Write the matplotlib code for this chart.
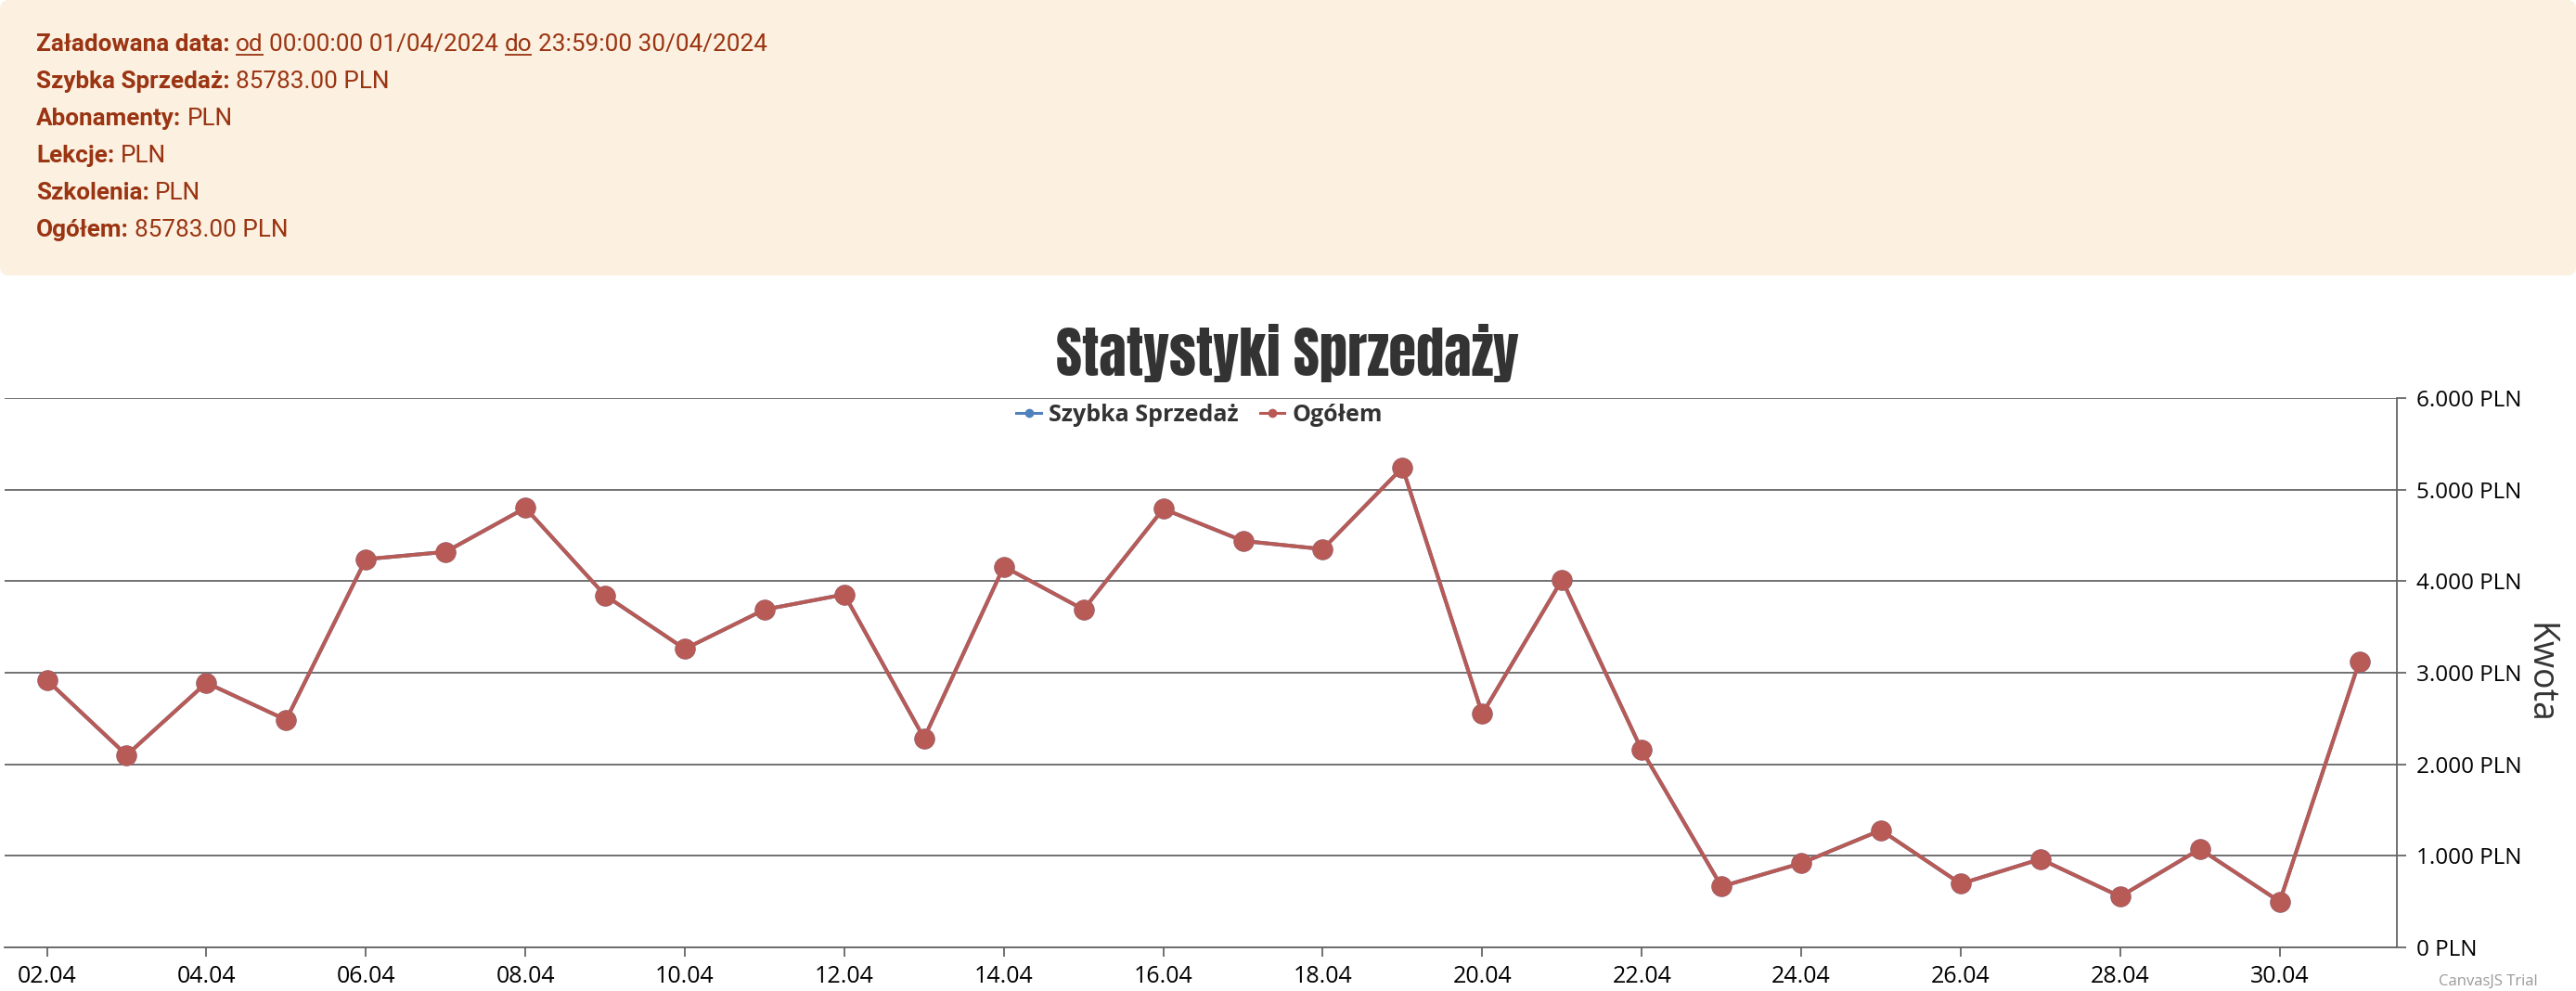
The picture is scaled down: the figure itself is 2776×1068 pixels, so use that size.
import matplotlib
matplotlib.use("Agg")
import matplotlib.pyplot as plt
import matplotlib.font_manager as fm
from matplotlib.patches import FancyBboxPatch
from matplotlib.lines import Line2D

# ---------------- data ----------------
days = list(range(2, 32))
szybka_sprzedaz = [2920, 2100, 2890, 2485, 4240, 4320, 4800, 3845, 3260, 3690,
                   3855, 2285, 4160, 3690, 4790, 4440, 4350, 5240, 2550, 4015,
                   2155, 665, 920, 1280, 695, 965, 555, 1075, 500, 3125]
ogolem = [2920, 2100, 2890, 2485, 4240, 4320, 4800, 3845, 3260, 3690,
          3855, 2285, 4160, 3690, 4790, 4440, 4350, 5240, 2550, 4015,
          2155, 665, 920, 1280, 695, 965, 555, 1075, 500, 3125]
series_names = ["Szybka Sprzedaż", "Ogółem"]
x_ticks = list(range(2, 31, 2))
x_tick_labels = ["02.04", "04.04", "06.04", "08.04", "10.04", "12.04", "14.04", "16.04",
                 "18.04", "20.04", "22.04", "24.04", "26.04", "28.04", "30.04"]
y_ticks = [0, 1000, 2000, 3000, 4000, 5000, 6000]
y_tick_labels = ["0 PLN", "1.000 PLN", "2.000 PLN", "3.000 PLN", "4.000 PLN", "5.000 PLN", "6.000 PLN"]
title = "Statystyki Sprzedaży"
y_title = "Kwota"
info_labels = ["Załadowana data:", "Szybka Sprzedaż:", "Abonamenty:", "Lekcje:", "Szkolenia:", "Ogółem:"]
info_values = [None, "85783.00 PLN", "PLN", "PLN", "PLN", "85783.00 PLN"]
date_from = "00:00:00 01/04/2024"
date_to = "23:59:00 30/04/2024"

# ---------------- fonts ----------------
avail = {f.name for f in fm.fontManager.ttflist}
def pick(*names):
    for n in names:
        if n in avail:
            return n
    return "DejaVu Sans"

INFO_FONT = pick("Roboto", "Open Sans", "DejaVu Sans")
TICK_FONT = pick("Open Sans", "Lato", "DejaVu Sans")
TITLE_FONT = pick("Anton", "Oswald", "Bebas Neue", "Roboto Condensed", "Liberation Sans Narrow",
                  "Open Sans Condensed", "DejaVu Sans")

W, H = 2776, 1068
fig = plt.figure(figsize=(W / 100, H / 100), dpi=100)
fig.patch.set_facecolor("white")
renderer = fig.canvas.get_renderer()

# ---------------- info box ----------------
BOX_H = 297
box_ax = fig.add_axes([0, 1 - BOX_H / H, 1, BOX_H / H])
box_ax.set_xlim(0, W)
box_ax.set_ylim(BOX_H, 0)
box_ax.axis("off")
box_ax.add_patch(FancyBboxPatch((0, 0), W, BOX_H, boxstyle="round,pad=0,rounding_size=10",
                                fc="#FCF1E1", ec="none"))

INFO_C = "#9a3412"
INFO_FS = 18.8
SPACE = 6.5

def seg_line(y, segs):
    x = 39
    inv = box_ax.transData.inverted()
    for txt, bold, ul in segs:
        t = box_ax.text(x, y, txt, fontsize=INFO_FS, family=INFO_FONT,
                        fontweight="bold" if bold else "normal",
                        color=INFO_C, va="baseline", ha="left")
        bb = t.get_window_extent(renderer)
        (x0, _), (x1, _) = inv.transform([[bb.x0, bb.y0], [bb.x1, bb.y1]])
        if ul:
            box_ax.plot([x0, x1], [y + 4, y + 4], color=INFO_C, lw=1.3, solid_capstyle="butt")
        x = x1 + SPACE

baselines = [55, 95, 135, 175, 215, 255]
seg_line(baselines[0], [(info_labels[0], True, False), ("od", False, True),
                        (date_from, False, False), ("do", False, True), (date_to, False, False)])
for i in range(1, 6):
    seg_line(baselines[i], [(info_labels[i], True, False), (info_values[i], False, False)])

# ---------------- title ----------------
title_kw = dict(family=TITLE_FONT, fontweight="bold", color="#333333", ha="center", va="baseline")
if TITLE_FONT == "DejaVu Sans":
    title_kw["fontstretch"] = "condensed"
tt = fig.text(1387 / W, 1 - 405 / H, title, fontsize=40, **title_kw)
bb = tt.get_window_extent(renderer)
tt.set_fontsize(40 * 498 / bb.width)

# ---------------- chart ----------------
AX_L, AX_R, AX_T, AX_B = 5, 2583, 429, 1021
ax = fig.add_axes([AX_L / W, 1 - AX_B / H, (AX_R - AX_L) / W, (AX_B - AX_T) / H])
ax.set_facecolor("white")

ax.plot(days, szybka_sprzedaz, color="#4F81BC", lw=2.9, marker="o", ms=16, mew=0, zorder=3)
ax.plot(days, ogolem, color="#B85A55", lw=2.9, marker="o", ms=16, mew=0, zorder=4)

ax.set_xlim(1.47, 31.47)
ax.set_ylim(0, 6000)
ax.set_xticks(x_ticks)
ax.set_xticklabels(x_tick_labels, family=TICK_FONT)
ax.set_yticks(y_ticks)
ax.set_yticklabels(y_tick_labels, family=TICK_FONT)
ax.yaxis.tick_right()
ax.grid(axis="y", color="#666666", lw=1.3, zorder=1)
ax.set_axisbelow(True)
for s in ["left", "top"]:
    ax.spines[s].set_visible(False)
for s in ["right", "bottom"]:
    ax.spines[s].set_color("#666666")
    ax.spines[s].set_linewidth(1.3)
ax.tick_params(axis="y", right=True, left=False, length=7, width=1.3, color="#666666",
               pad=8, labelsize=17.5, labelcolor="black")
ax.tick_params(axis="x", length=7, width=1.3, color="#666666", pad=7,
               labelsize=18, labelcolor="black")

ax.yaxis.set_label_position("right")
ax.set_ylabel(y_title, family=TICK_FONT, fontsize=27, color="#333333", rotation=270,
              va="center", ha="center")
ax.yaxis.set_label_coords((2736 - AX_L) / (AX_R - AX_L), 0.5)

handles = [Line2D([], [], color="#4F81BC", lw=2.2, marker="o", ms=7, mew=0),
           Line2D([], [], color="#B85A55", lw=2.2, marker="o", ms=7, mew=0)]
leg = ax.legend(handles, series_names, loc="center", bbox_to_anchor=(0.4995, 1 - 18.5 / 592),
                ncol=2, frameon=False, handlelength=1.05, handletextpad=0.35,
                columnspacing=0.9, borderpad=0, borderaxespad=0,
                prop=dict(family=TICK_FONT, weight="bold", size=18))
for t in leg.get_texts():
    t.set_color("#333333")

fig.text(2628 / W, 1 - 1066 / H, "CanvasJS Trial", fontsize=12, color="#9a9a9a",
         family=TICK_FONT, ha="left", va="bottom")

fig.savefig("out.png", dpi=100)
